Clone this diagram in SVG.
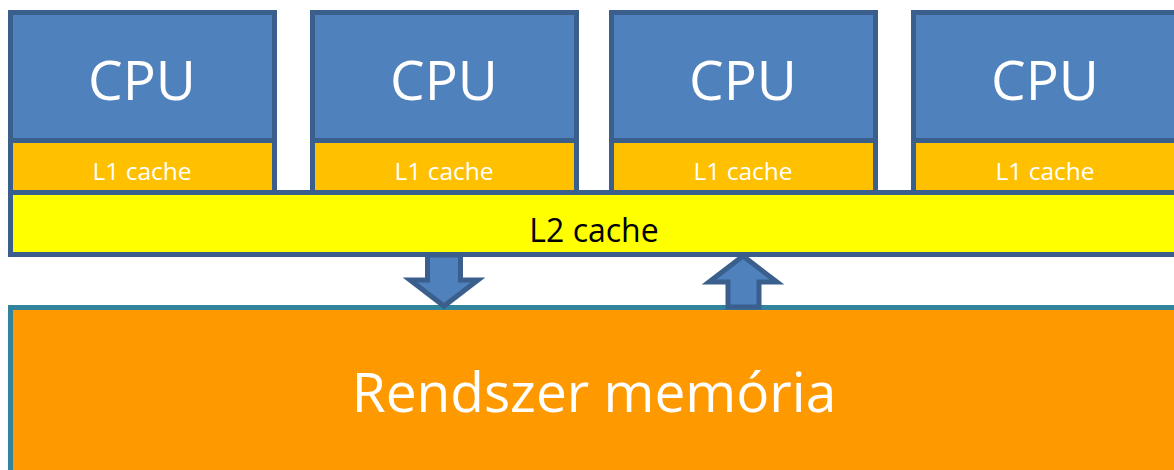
<svg xmlns="http://www.w3.org/2000/svg" width="1174" height="470" viewBox="0 0 1174 470">
<style>
.cpu{fill:#4F81BD;stroke:#3A5F8C;stroke-width:5}
.l1{fill:#FFC000;stroke:#3A5F8C;stroke-width:5}
.l2{fill:#FFFF00;stroke:#3A5F8C;stroke-width:5}
.mem{fill:#FF9900;stroke:#31849B;stroke-width:5}
.arr{fill:#4F81BD;stroke:#3A5F8C;stroke-width:5;stroke-linejoin:miter}
.t{font-family:"Open Sans","Liberation Sans",sans-serif;text-anchor:middle}
.big{font-size:55px;fill:#FFFFFF}
.small{font-size:24.5px;fill:#FFFFFF}
</style>
<rect width="1174" height="470" fill="#FFFFFF"/>
<g id="cpu1"><rect class="cpu" x="10.5" y="12.5" width="264" height="128"/><rect class="l1" x="10.5" y="140.5" width="264" height="52"/><text class="t big" x="142" y="100">CPU</text><text class="t small" x="142" y="180">L1 cache</text></g>
<g id="cpu2"><rect class="cpu" x="312.5" y="12.5" width="264" height="128"/><rect class="l1" x="312.5" y="140.5" width="264" height="52"/><text class="t big" x="444" y="100">CPU</text><text class="t small" x="444" y="180">L1 cache</text></g>
<g id="cpu3"><rect class="cpu" x="611.5" y="12.5" width="264" height="128"/><rect class="l1" x="611.5" y="140.5" width="264" height="52"/><text class="t big" x="743" y="100">CPU</text><text class="t small" x="743" y="180">L1 cache</text></g>
<g id="cpu4"><rect class="cpu" x="913.5" y="12.5" width="264" height="128"/><rect class="l1" x="913.5" y="140.5" width="264" height="52"/><text class="t big" x="1045" y="100">CPU</text><text class="t small" x="1045" y="180">L1 cache</text></g>
<g id="l2"><rect class="l2" x="10.5" y="192.5" width="1200" height="62"/><text class="t" x="594" y="242" font-size="32" fill="#000000">L2 cache</text></g>
<g id="memory"><rect class="mem" x="10.5" y="307.5" width="1200" height="200"/><text class="t" x="594" y="412" font-size="55" fill="#FFFFFF">Rendszer memória</text></g>
<g id="connectors">
<polygon class="arr" points="427.5,255 460.5,255 460.5,280 478,280 444,306 410,280 427.5,280"/>
<polygon class="arr" points="743,256 777,282 759,282 759,307 728,307 728,282 709,282"/>
</g>
</svg>
